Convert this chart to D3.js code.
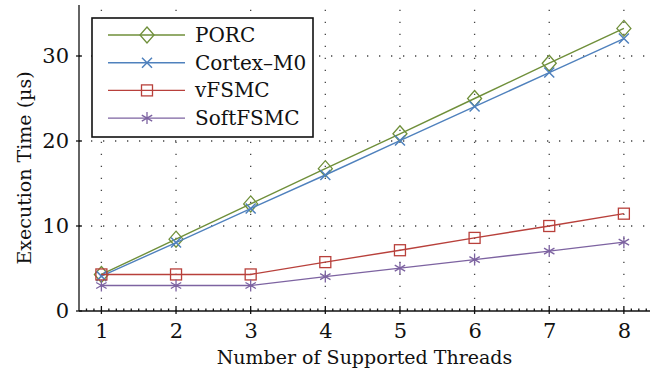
<!DOCTYPE html>
<html>
<head>
<meta charset="utf-8">
<script src="https://cdn.jsdelivr.net/npm/d3@7"></script>
<style>
  body { margin: 0; background: #fff; }
  text { font-family: "DejaVu Serif", serif; fill: #111; }
  .grid line { stroke: #444; stroke-width: 1.3; stroke-dasharray: 1.3 10.7; }
  .axis path, .axis line { stroke: #111; stroke-width: 1.3; }
</style>
</head>
<body>
<div id="chart"></div>
<script>
var threads = [1, 2, 3, 4, 5, 6, 7, 8]
var porc = [4.3, 8.45, 12.6, 16.75, 20.85, 25.0, 29.15, 33.25]
var cortex = [4.1, 8.05, 12.05, 16.0, 20.05, 24.05, 28.05, 32.05]
var vfsmc = [4.3, 4.3, 4.3, 5.75, 7.15, 8.6, 10.0, 11.45]
var softfsmc = [3.0, 3.0, 3.0, 4.05, 5.05, 6.05, 7.05, 8.1]
var xTicks = [1, 2, 3, 4, 5, 6, 7, 8]
var yTicks = [0, 10, 20, 30]

var series = [
  {name: 'PORC', values: porc, color: '#6f8f3a', marker: 'diamond'},
  {name: 'Cortex\u2013M0', values: cortex, color: '#4f81bd', marker: 'cross'},
  {name: 'vFSMC', values: vfsmc, color: '#b8403b', marker: 'square'},
  {name: 'SoftFSMC', values: softfsmc, color: '#7d63a1', marker: 'star'}
]

var W = 650, H = 376
var svg = d3.select('#chart').append('svg').attr('width', W).attr('height', H)

var x = d3.scaleLinear().domain([0.7, 8.35]).range([79, 650])
var y = d3.scaleLinear().domain([0, 36]).range([311, 5])

// dotted grid
var grid = svg.append('g').attr('class', 'grid')
grid.selectAll('line.v').data(xTicks).join('line')
  .attr('x1', d => x(d)).attr('x2', d => x(d))
  .attr('y1', y(0)).attr('y2', y(36))
grid.selectAll('line.h').data(yTicks.slice(1)).join('line')
  .attr('x1', x(0.7)).attr('x2', x(8.35))
  .attr('y1', d => y(d)).attr('y2', d => y(d))

// axes
var xAxis = svg.append('g').attr('class', 'axis').attr('transform', 'translate(0,' + y(0) + ')')
  .call(d3.axisBottom(x).tickValues(xTicks).tickSize(0).tickPadding(12).tickFormat(d3.format('d')))
xAxis.select('.domain').attr('d', 'M' + x(0.7) + ',0H' + x(8.35))
xAxis.selectAll('.tick text').attr('font-size', 21).attr('font-family', null)
var minor = d3.range(0.8, 8.35, 0.1).filter(v => Math.abs(v - Math.round(v)) > 0.01)
xAxis.selectAll('line.minor').data(minor).join('line').attr('class', 'minor')
  .attr('x1', d => x(d)).attr('x2', d => x(d)).attr('y1', 0).attr('y2', -2.5)
  .attr('stroke', '#111').attr('stroke-width', 1)
xAxis.selectAll('line.major').data(xTicks).join('line').attr('class', 'major')
  .attr('x1', d => x(d)).attr('x2', d => x(d)).attr('y1', -5).attr('y2', 3)
  .attr('stroke', '#111').attr('stroke-width', 1.3)

var yAxis = svg.append('g').attr('class', 'axis').attr('transform', 'translate(' + x(0.7) + ',0)')
  .call(d3.axisLeft(y).tickValues(yTicks).tickSize(0).tickPadding(10))
yAxis.select('.domain').attr('d', 'M0,' + y(0) + 'V' + y(36))
yAxis.selectAll('.tick text').attr('font-size', 21).attr('font-family', null)
yAxis.selectAll('line.major').data(yTicks).join('line').attr('class', 'major')
  .attr('x1', -3).attr('x2', 3).attr('y1', d => y(d)).attr('y2', d => y(d))
  .attr('stroke', '#111').attr('stroke-width', 1.3)

svg.append('text').attr('x', (x(0.7) + x(8.35)) / 2).attr('y', 364)
  .attr('text-anchor', 'middle').attr('font-size', 19).text('Number of Supported Threads')
svg.append('text').attr('transform', 'translate(31,168) rotate(-90)')
  .attr('text-anchor', 'middle').attr('font-size', 19).text('Execution Time (\u00b5s)')

function drawMarker(g, type, color) {
  if (type == 'diamond') {
    g.append('path').attr('d', 'M0,-8L7,0L0,8L-7,0Z').attr('fill', 'none').attr('stroke', color).attr('stroke-width', 1.3)
  } else if (type == 'square') {
    g.append('rect').attr('x', -5.5).attr('y', -5.5).attr('width', 11).attr('height', 11)
      .attr('fill', 'none').attr('stroke', color).attr('stroke-width', 1.3)
  } else if (type == 'cross') {
    g.append('path').attr('d', 'M-5,-5L5,5M-5,5L5,-5').attr('stroke', color).attr('stroke-width', 1.5)
  } else {
    g.append('path').attr('d', 'M0,-6V6M-5.2,-3L5.2,3M-5.2,3L5.2,-3').attr('stroke', color).attr('stroke-width', 1.3)
  }
}

var line = d3.line().x((d, i) => x(threads[i])).y(d => y(d))

series.forEach(function(s) {
  var g = svg.append('g')
  g.append('path').attr('d', line(s.values)).attr('fill', 'none').attr('stroke', s.color).attr('stroke-width', 1.4)
  s.values.forEach(function(v, i) {
    drawMarker(g.append('g').attr('transform', 'translate(' + x(threads[i]) + ',' + y(v) + ')'), s.marker, s.color)
  })
})

// legend
var leg = svg.append('g')
leg.append('rect').attr('x', 92).attr('y', 18).attr('width', 221).attr('height', 119)
  .attr('fill', '#fff').attr('stroke', '#111').attr('stroke-width', 1.6)
series.forEach(function(s, i) {
  var ly = 35 + i * 27.7
  leg.append('line').attr('x1', 108).attr('x2', 185).attr('y1', ly).attr('y2', ly)
    .attr('stroke', s.color).attr('stroke-width', 1.4)
  drawMarker(leg.append('g').attr('transform', 'translate(147,' + ly + ')'), s.marker, s.color)
  leg.append('text').attr('x', 195).attr('y', ly + 7).attr('font-size', 20).text(s.name)
})
</script>
</body>
</html>
